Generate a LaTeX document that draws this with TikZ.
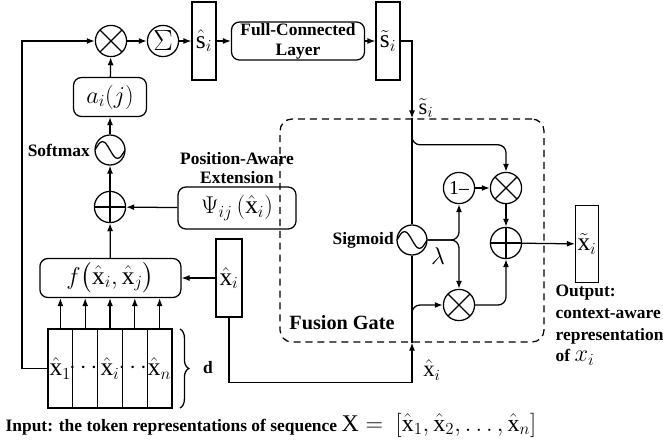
\documentclass[tikz,border=0pt]{standalone}
\usepackage{amsmath, amssymb}
\usepackage{fontspec}
\setmainfont{Liberation Serif}
\usepackage{tikz}
\usetikzlibrary{arrows.meta, calc, decorations.pathreplacing}

\tikzset{
  op/.style={circle, draw, minimum size=0.78cm, inner sep=0pt},
  mult/.style={op, path picture={\draw (path picture bounding box.north west) -- (path picture bounding box.south east) (path picture bounding box.north east) -- (path picture bounding box.south west);}},
  plus/.style={op, path picture={\draw (path picture bounding box.north) -- (path picture bounding box.south) (path picture bounding box.west) -- (path picture bounding box.east);}},
  act/.style={op, minimum size=0.75cm, path picture={\draw (path picture bounding box.west) sin ++(0.1875,0.21) cos ++(0.1875,-0.21) sin ++(0.1875,-0.21) cos ++(0.1875,0.21);}},
  vecbox/.style={rectangle, draw, minimum width=0.6cm, minimum height=1.95cm, inner sep=0pt},
  fnbox/.style={rectangle, draw, rounded corners=0.2cm, inner sep=0pt},
  cellbox/.style={rectangle, draw, minimum width=0.62cm, minimum height=1.975cm, inner sep=0pt},
  gatebox/.style={rectangle, draw, dash pattern=on 5pt off 3.5pt, rounded corners=0.3cm, minimum width=6.6cm, minimum height=5.575cm},
  lbl/.style={font=\fontsize{12.4}{14}\selectfont\bfseries},
  mth/.style={font=\fontsize{18}{20}\selectfont},
}

\begin{document}
\begin{tikzpicture}[>={Latex[length=2mm,width=1.5mm]}, line width=0.9pt]
\useasboundingbox (0,0) rectangle (16.575,-11.075);
% top row
\node[mult] (mul1) at (2.775,-1.025) {};
\node[op, font=\fontsize{21}{22}\selectfont] (sum) at (4.075,-1.025) {$\Sigma$};
\node[vecbox, mth] (shat) at (5.1,-1.025) {$\hat{\mathrm{s}}_i$};
\node[fnbox, lbl, align=center, minimum width=3.325cm, minimum height=0.95cm] (fc) at (7.45,-1.025) {Full-Connected\\Layer};
\node[vecbox, mth] (stil) at (9.7,-1.025) {$\tilde{\mathrm{s}}_i$};
\draw[->] (mul1) -- (sum); \draw[->] (sum) -- (shat); \draw[->] (shat) -- (fc); \draw[->] (fc) -- (stil);
% attention column
\node[fnbox, mth, minimum width=1.825cm, minimum height=0.975cm] (aij) at (2.75,-2.425) {$a_i(j)$};
\node[act] (sm) at (2.75,-3.75) {};
\node[lbl, anchor=east, inner sep=0pt] (smlbl) at ([xshift=-0.1cm]sm.west) {Softmax};
\node[plus] (add1) at (2.75,-5.175) {};
\node[fnbox, mth, minimum width=2.95cm, minimum height=1.05cm] (psi) at (5.925,-5.2) {$\Psi_{ij}\,(\hat{\mathrm{x}}_i)$};
\node[lbl, align=center, inner sep=0pt] (psilbl) at (5.925,-4.2) {Position-Aware\\Extension};
\node[fnbox, mth, minimum width=3.525cm, minimum height=0.975cm] (f) at (2.76,-6.95) {$f\bigl(\hat{\mathrm{x}}_i,\hat{\mathrm{x}}_j\bigr)$};
\node[vecbox, mth, minimum width=0.65cm] (xi) at (5.725,-6.95) {$\hat{\mathrm{x}}_i$};
\draw[->] (aij) -- (mul1); \draw[->] (sm) -- (aij); \draw[->] (add1) -- (sm);
\draw[->] (f) -- (add1); \draw[->] (psi) -- (add1); \draw[->] (xi) -- (f);
% input tokens
\foreach \k/\lab in {1/{$\hat{\mathrm{x}}_1$}, 2/{$\cdots$}, 3/{$\hat{\mathrm{x}}_i$}, 4/{$\cdots$}, 5/{$\hat{\mathrm{x}}_n$}} {
  \node[cellbox, mth] (t\k) at ({1.51+0.62*(\k-1)},-9.2125) {\makebox[0pt]{\lab}};
  \draw[->] (t\k.north) -- (t\k.north |- f.south);
}
\draw[decorate, decoration={brace, amplitude=0.22cm}] (4.5,-8.225) -- (4.5,-10.2);
\node[lbl] (dim) at (5.2,-9.2) {d};
\coordinate (loopc) at (0.55,-1.025);
\draw[->] (t1.west) -| (loopc) -- (mul1.west);
% fusion gate
\node[gatebox] (gate) at (10.3,-5.7625) {};
\node[font=\fontsize{14.4}{16}\selectfont\bfseries] (gatelbl) at (8.55,-8.075) {Fusion Gate};
\node[act] (sig) at (10.3,-6.0) {};
\node[lbl, anchor=east, inner sep=0pt] (siglbl) at ([xshift=-0.05cm]sig.west) {Sigmoid};
\node[op, font=\fontsize{14}{15}\selectfont] (onem) at (11.475,-4.7) {1--};
\node[mult] (mul2) at (12.65,-4.7) {};
\node[plus] (add2) at (12.65,-6.075) {};
\node[mult] (mul3) at (11.475,-7.625) {};
\node[vecbox, mth, minimum width=0.575cm, minimum height=1.925cm] (out) at (14.675,-6.1) {$\tilde{\mathrm{x}}_i$};
\draw[->] (stil.east) -| (sig |- gate.north);
\draw (sig |- gate.north) -- (sig.north);
\node[mth, font=\fontsize{16}{18}\selectfont] (stlbl) at (10.65,-2.7) {$\tilde{\mathrm{s}}_i$};
\draw[->] (xi.south) -- ++(0,-1.625) -| (sig |- gate.south);
\draw (sig |- gate.south) -- (sig.south);
\node[mth, font=\fontsize{16}{18}\selectfont] (xilbl) at (10.8,-9.25) {$\hat{\mathrm{x}}_i$};
\draw[->, rounded corners=0.2cm] ($(sig |- gate.north)+(0,-0.2)$) |- ([yshift=0.675cm]mul2.north) -- (mul2.north);
\draw[->, rounded corners=0.2cm] ($(sig |- gate.south)+(0,0.5)$) |- (mul3.west);
\draw[->, rounded corners=0.2cm] (sig.east) -| (onem.south);
\draw[->, rounded corners=0.2cm] (sig.east) -| (mul3.north);
\node[font=\fontsize{16}{18}\selectfont] (lam) at (10.95,-6.4) {$\lambda$};
\draw[->] (onem) -- (mul2); \draw[->] (mul2) -- (add2);
\draw[->, rounded corners=0.2cm] (mul3.east) -| (add2.south);
\draw[->] (add2) -- (out);
\node[anchor=north west, inner sep=0pt, align=left, font=\fontsize{12.4}{15.6}\selectfont\bfseries] (outlbl) at (13.875,-7.1) {Output:\\context-aware\\representation\\of {\fontsize{18}{15.6}\selectfont$x_i$}};
% caption
\node[anchor=west, inner sep=0pt, lbl] (inlbl) at (0.125,-10.625) {Input: the token representations of sequence {\fontsize{17}{19}\selectfont$\mathrm{X}=\ [\hat{\mathrm{x}}_1,\hat{\mathrm{x}}_2,\dots,\hat{\mathrm{x}}_n]$}};
\end{tikzpicture}
\end{document}
